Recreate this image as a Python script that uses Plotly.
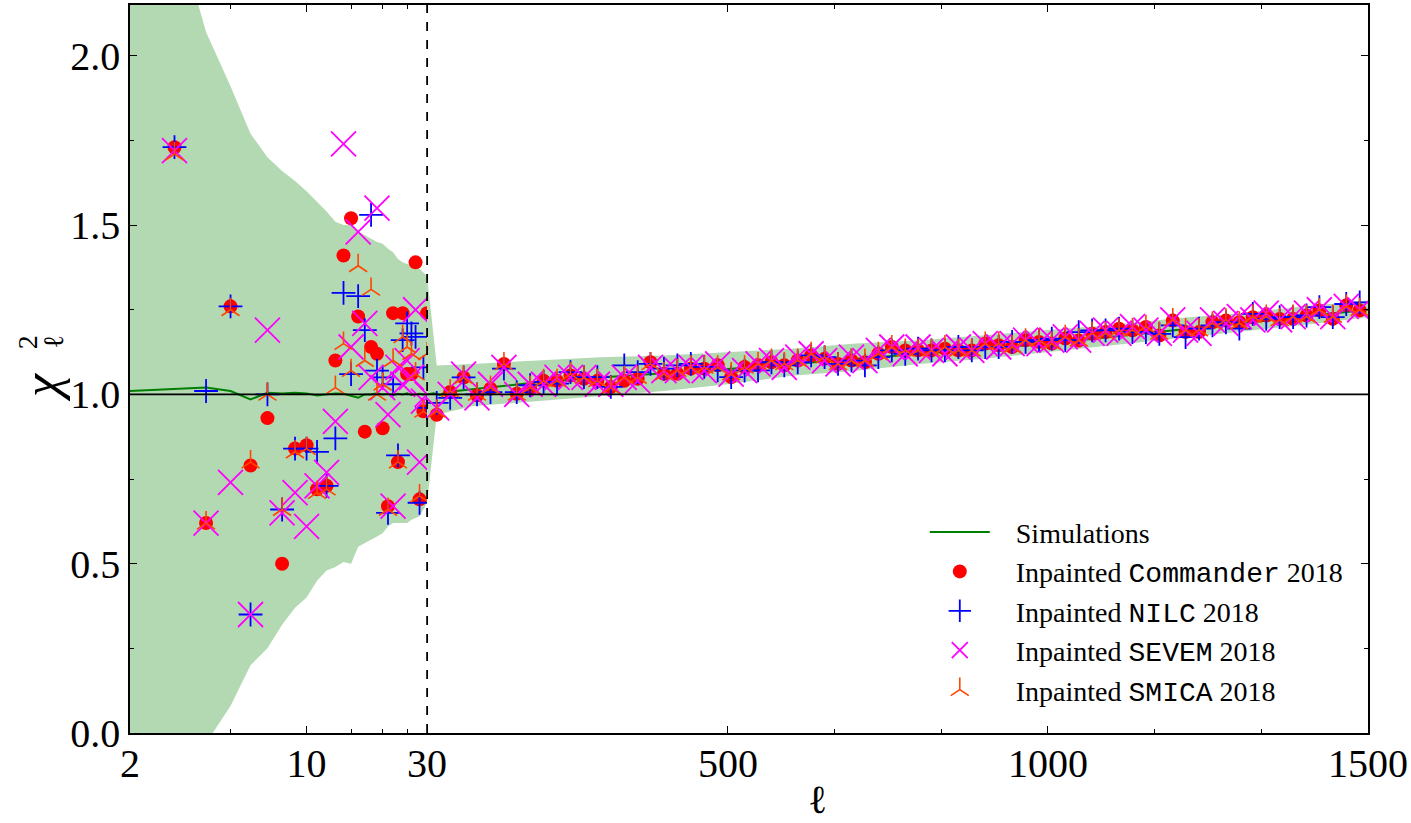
import numpy as np
import plotly.graph_objects as go

# ---------------- data ----------------
# unbinned low multipoles (log part of the axis)
ell_low = list(range(3, 31))
commander_low = [1.73, 0.62, 1.26, 0.79, 0.93, 0.50, 0.84, 0.85, 0.72, 0.73,
                 1.10, 1.41, 1.52, 1.23, 0.89, 1.14, 1.12, 0.90, 0.67, 1.24,
                 0.80, 1.24, 1.06, 1.06, 1.39, 0.69, 0.95, 1.24]
nilc_low = [1.73, 1.01, 1.26, 0.35, 1.00, 0.66, 0.84, 0.84, 0.83, 0.73,
            0.87, 1.30, 1.06, 1.29, 1.19, 1.53, 1.07, 1.05, 0.65, 1.03,
            0.82, 1.16, 1.21, 1.18, 1.17, 0.68, 1.08, 0.96]
sevem_low = [1.72, 0.62, 0.74, 0.35, 1.19, 0.65, 0.71, 0.61, 0.73, 0.77,
             0.92, 1.74, 1.14, 1.48, 1.21, 1.05, 1.55, 1.02, 0.94, 0.67,
             1.08, 1.03, 1.10, 1.05, 1.25, 0.80, 0.98, 1.00]
smica_low = [1.71, 0.62, 1.25, 0.80, 1.00, 0.66, 0.83, 0.84, 0.71, 0.72,
             1.02, 1.15, 1.07, 1.38, 1.10, 1.31, 1.00, 1.03, 0.66, 1.10,
             0.80, 1.17, 1.14, 1.12, 1.06, 0.70, 0.95, 1.12]

# binned high multipoles (linear part of the axis)
ell_bin = [45, 66, 87, 108, 129, 150, 170, 191, 212, 233, 254, 275, 296, 317,
           338, 359, 379, 400, 421, 442, 463, 484, 505, 526, 547, 568, 588,
           609, 630, 651, 672, 693, 714, 735, 756, 777, 797, 818, 839, 860,
           881, 902, 923, 944, 965, 986, 1006, 1027, 1048, 1069, 1090, 1111,
           1132, 1153, 1174, 1195, 1215, 1236, 1257, 1278, 1299, 1320, 1341,
           1362, 1383, 1404, 1424, 1445, 1466, 1487]
commander_bin = [0.94, 1.007, 1.05, 0.997, 1.017, 1.09, 1.002, 1.017, 1.04, 1.04,
                 1.056, 1.046, 1.04, 1.022, 1.04, 1.046, 1.095, 1.061, 1.061, 1.076,
                 1.076, 1.086, 1.051, 1.081, 1.086, 1.095, 1.086, 1.10, 1.115, 1.105,
                 1.09, 1.10, 1.095, 1.12, 1.14, 1.13, 1.13, 1.13, 1.135, 1.13,
                 1.13, 1.15, 1.145, 1.14, 1.16, 1.155, 1.15, 1.165, 1.159, 1.179,
                 1.184, 1.194, 1.189, 1.199, 1.174, 1.218, 1.184, 1.184, 1.213, 1.218,
                 1.213, 1.228, 1.233, 1.223, 1.223, 1.233, 1.248, 1.223, 1.263, 1.248]
nilc_bin = [0.975, 0.99, 1.05, 1.0, 1.007, 1.076, 1.007, 1.027, 1.037, 1.032,
            1.066, 1.051, 1.051, 1.022, 1.086, 1.066, 1.09, 1.076, 1.086, 1.09,
            1.081, 1.071, 1.051, 1.07, 1.071, 1.095, 1.086, 1.095, 1.115, 1.11,
            1.09, 1.10, 1.086, 1.11, 1.13, 1.12, 1.135, 1.13, 1.13, 1.14,
            1.13, 1.14, 1.14, 1.155, 1.155, 1.16, 1.165, 1.16, 1.184, 1.189,
            1.189, 1.194, 1.184, 1.184, 1.179, 1.204, 1.169, 1.194, 1.204, 1.213,
            1.194, 1.238, 1.223, 1.228, 1.228, 1.233, 1.258, 1.228, 1.267, 1.272]
sevem_bin = [0.96, 1.0, 1.06, 0.99, 1.03, 1.08, 1.0, 1.03, 1.03, 1.05,
             1.05, 1.05, 1.03, 1.03, 1.05, 1.04, 1.08, 1.07, 1.07, 1.08,
             1.07, 1.09, 1.06, 1.07, 1.09, 1.10, 1.08, 1.11, 1.12, 1.10,
             1.09, 1.11, 1.10, 1.13, 1.14, 1.12, 1.14, 1.13, 1.12, 1.14,
             1.13, 1.15, 1.14, 1.15, 1.16, 1.15, 1.16, 1.17, 1.16, 1.18,
             1.19, 1.18, 1.20, 1.19, 1.18, 1.22, 1.19, 1.18, 1.22, 1.21,
             1.23, 1.22, 1.24, 1.22, 1.23, 1.24, 1.25, 1.23, 1.26, 1.25]
smica_bin = [0.95, 1.01, 1.05, 1.0, 1.02, 1.09, 1.0, 1.02, 1.04, 1.04,
             1.06, 1.05, 1.04, 1.02, 1.05, 1.05, 1.09, 1.06, 1.07, 1.08,
             1.08, 1.08, 1.06, 1.08, 1.09, 1.10, 1.09, 1.10, 1.12, 1.11,
             1.09, 1.10, 1.10, 1.12, 1.14, 1.13, 1.13, 1.13, 1.14, 1.13,
             1.13, 1.15, 1.15, 1.14, 1.16, 1.16, 1.15, 1.17, 1.16, 1.18,
             1.18, 1.19, 1.19, 1.20, 1.18, 1.22, 1.19, 1.19, 1.21, 1.22,
             1.21, 1.23, 1.23, 1.22, 1.23, 1.23, 1.25, 1.23, 1.26, 1.25]

# simulations: mean and 1-sigma band
sim_ell_low = list(range(2, 31))
sim_low = [1.010, 1.016, 1.020, 1.010, 0.985, 1.005, 1.003, 1.005, 1.003, 0.997,
           1.000, 1.003, 1.002, 0.995, 0.990, 1.000, 1.000, 1.003, 1.000, 1.002,
           0.998, 1.002, 1.000, 1.003, 0.998, 1.000, 1.002, 1.000, 1.000]
band_up_low = [2.75, 2.40, 2.07, 1.91, 1.77, 1.70, 1.66, 1.63, 1.60, 1.57,
               1.54, 1.51, 1.50, 1.50, 1.48, 1.47, 1.46, 1.45, 1.445, 1.43,
               1.42, 1.40, 1.39, 1.385, 1.38, 1.375, 1.37, 1.36, 1.35]
band_lo_low = [-1.00, -0.45, -0.03, 0.08, 0.20, 0.25, 0.32, 0.37, 0.40, 0.45,
               0.48, 0.49, 0.505, 0.50, 0.55, 0.56, 0.57, 0.58, 0.59, 0.61,
               0.62, 0.62, 0.62, 0.62, 0.63, 0.635, 0.64, 0.66, 0.68]

sim_ell_high = [30, 40, 50, 60, 75, 100, 150, 200, 300, 400, 500, 600, 700,
                800, 900, 1000, 1100, 1200, 1300, 1400, 1500]
sim_high = [1.000, 1.003, 0.998, 1.008, 1.010, 1.015, 1.025, 1.035, 1.050, 1.062,
            1.075, 1.090, 1.105, 1.120, 1.135, 1.150, 1.170, 1.190, 1.210, 1.230,
            1.250]
band_ell_high = [30, 45, 100, 200, 300, 400, 500, 600, 700, 800, 900, 1000,
                 1100, 1200, 1300, 1400, 1500]
band_up_high = [1.35, 1.085, 1.09, 1.10, 1.11, 1.115, 1.125, 1.135, 1.15, 1.16,
                1.175, 1.19, 1.205, 1.225, 1.24, 1.26, 1.277]
band_lo_high = [0.68, 0.94, 0.965, 0.98, 0.995, 1.01, 1.03, 1.055, 1.07, 1.09,
                1.105, 1.125, 1.145, 1.165, 1.185, 1.205, 1.228]

# ---------------- style ----------------
SERIF = "Liberation Serif"
MONO = "Liberation Mono"
BAND = "#b3d9b3"
GREEN = "#008000"
RED = "#ff0000"
BLUE = "#0000ff"
MAG = "#ff00ff"
ORANGE = "#ff4500"
SPLIT = 0.24
PAD = "\u00a0\u00a0\u00a0"

def tt(name):
    return f'<span style="font-family:{MONO}">{name}</span>'

fig = go.Figure()

# band (log part)
fig.add_trace(go.Scatter(x=sim_ell_low, y=band_lo_low, mode="lines", line=dict(width=0),
                         showlegend=False, hoverinfo="skip", xaxis="x", yaxis="y"))
fig.add_trace(go.Scatter(x=sim_ell_low, y=band_up_low, mode="lines", line=dict(width=0),
                         fill="tonexty", fillcolor=BAND, showlegend=False, hoverinfo="skip",
                         xaxis="x", yaxis="y"))
# band (linear part)
fig.add_trace(go.Scatter(x=band_ell_high, y=band_lo_high, mode="lines", line=dict(width=0),
                         showlegend=False, hoverinfo="skip", xaxis="x2", yaxis="y2"))
fig.add_trace(go.Scatter(x=band_ell_high, y=band_up_high, mode="lines", line=dict(width=0),
                         fill="tonexty", fillcolor=BAND, showlegend=False, hoverinfo="skip",
                         xaxis="x2", yaxis="y2"))

# simulation mean
fig.add_trace(go.Scatter(x=sim_ell_low, y=sim_low, mode="lines", line=dict(color=GREEN, width=2),
                         name=PAD + "Simulations", legendgroup="sim", showlegend=True,
                         legendrank=1, xaxis="x", yaxis="y"))
fig.add_trace(go.Scatter(x=sim_ell_high, y=sim_high, mode="lines", line=dict(color=GREEN, width=2),
                         name="Simulations", legendgroup="sim", showlegend=False,
                         xaxis="x2", yaxis="y2"))

series = [
    (PAD + "Inpainted " + tt("Commander") + " 2018", commander_low, commander_bin,
     dict(symbol="circle", size=14, color=RED, line=dict(width=0))),
    (PAD + "Inpainted " + tt("NILC") + " 2018", nilc_low, nilc_bin,
     dict(symbol="cross-thin", size=17, color=BLUE, line=dict(color=BLUE, width=1.8))),
    (PAD + "Inpainted " + tt("SEVEM") + " 2018", sevem_low, sevem_bin,
     dict(symbol="x-thin", size=25, color=MAG, line=dict(color=MAG, width=1.8))),
    (PAD + "Inpainted " + tt("SMICA") + " 2018", smica_low, smica_bin,
     dict(symbol="y-up", size=15, color=ORANGE, line=dict(color=ORANGE, width=1.6))),
]
for i, (name, ylow, ybin, mk) in enumerate(series):
    fig.add_trace(go.Scatter(x=ell_low, y=ylow, mode="markers", marker=mk, name=name,
                             legendgroup=name, showlegend=True, legendrank=2 + i,
                             xaxis="x", yaxis="y"))
    fig.add_trace(go.Scatter(x=ell_bin, y=ybin, mode="markers", marker=mk, name=name,
                             legendgroup=name, showlegend=False, xaxis="x2", yaxis="y2"))

tickfont = dict(family=SERIF, size=40, color="black")
common = dict(showgrid=False, zeroline=False, showline=True, linecolor="black", linewidth=1.5,
              ticks="inside", ticklen=7, tickwidth=1.4, tickcolor="black", tickfont=tickfont)

fig.update_layout(
    width=1411, height=823,
    margin=dict(l=130, r=42, t=3, b=90),
    paper_bgcolor="white", plot_bgcolor="white",
    xaxis=dict(type="log", domain=[0, SPLIT], range=[np.log10(2), np.log10(30)],
               tickvals=[2, 10, 30], ticktext=["2", "10", "30"], anchor="y",
               mirror="ticks", ticklabelstandoff=-6,
               minor=dict(tickvals=[5, 15, 20, 25], ticks="inside", ticklen=4,
                          tickwidth=1.2, tickcolor="black"),
               **common),
    xaxis2=dict(domain=[SPLIT, 1], range=[30, 1500], tickvals=[500, 1000, 1500],
                ticktext=["500", "1000", "1500"], anchor="y2", mirror="ticks",
                ticklabelstandoff=-6,
                minor=dict(tickvals=[666.67, 833.33, 1166.67, 1333.33], ticks="inside",
                           ticklen=4, tickwidth=1.2, tickcolor="black"),
                **common),
    yaxis=dict(domain=[0, 1], range=[0, 2.15], anchor="x",
               tickvals=[0, 0.5, 1.0, 1.5, 2.0], ticktext=["0.0", "0.5", "1.0", "1.5", "2.0"],
               ticklabelstandoff=0,
               minor=dict(tickvals=[0.25, 0.75, 1.25, 1.75], ticks="inside", ticklen=4,
                          tickwidth=1.2, tickcolor="black"),
               **common),
    yaxis2=dict(domain=[0, 1], range=[0, 2.15], anchor="x2", side="right",
                tickvals=[0, 0.5, 1.0, 1.5, 2.0], showticklabels=False,
                minor=dict(tickvals=[0.25, 0.75, 1.25, 1.75], ticks="inside", ticklen=4,
                           tickwidth=1.2, tickcolor="black"),
                **common),
    legend=dict(x=0.642, y=0.31, xanchor="left", yanchor="top",
                bgcolor="rgba(0,0,0,0)", borderwidth=0,
                font=dict(family=SERIF, size=28, color="black"),
                itemwidth=60, traceorder="normal"),
    showlegend=True,
    shapes=[
        dict(type="line", xref="paper", yref="y", x0=0, x1=1, y0=1, y1=1,
             line=dict(color="black", width=1.8), layer="above"),
        dict(type="line", xref="paper", yref="paper", x0=SPLIT, x1=SPLIT, y0=0, y1=1,
             line=dict(color="black", width=1.8, dash="dash"), layer="above"),
    ],
    annotations=[
        dict(text="<i>χ</i>", xref="paper", yref="paper",
             x=-0.071, y=0.474, xanchor="center", yanchor="middle", textangle=-90,
             showarrow=False, font=dict(family=SERIF, size=52, color="black")),
        dict(text="2", xref="paper", yref="paper",
             x=-0.083, y=0.537, xanchor="center", yanchor="middle", textangle=-90,
             showarrow=False, font=dict(family=SERIF, size=28, color="black")),
        dict(text="ℓ", xref="paper", yref="paper",
             x=-0.062, y=0.537, xanchor="center", yanchor="middle", textangle=-90,
             showarrow=False, font=dict(family=SERIF, size=28, color="black")),
        dict(text="ℓ", xref="paper", yref="paper", x=0.555, y=-0.092,
             xanchor="center", yanchor="middle", showarrow=False,
             font=dict(family=SERIF, size=40, color="black")),
    ],
)

fig.write_html("out.html")
